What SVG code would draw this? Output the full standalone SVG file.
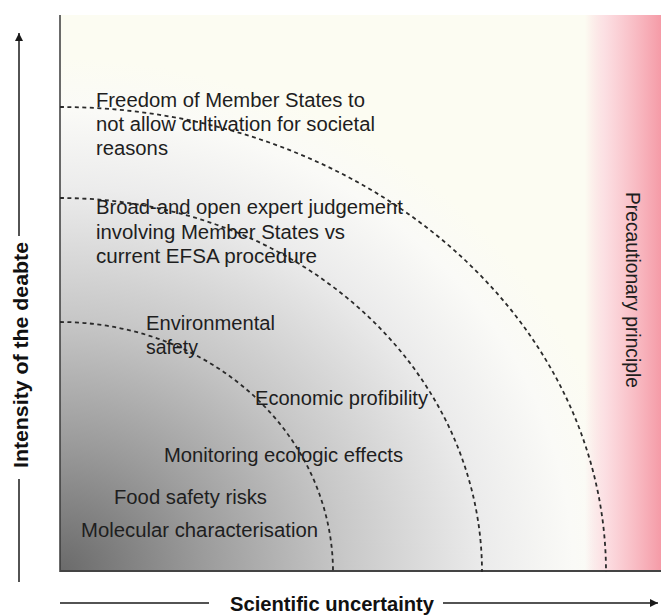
<svg xmlns="http://www.w3.org/2000/svg" width="661" height="615" viewBox="0 0 661 615">
<style>
.lbl{font-family:"Liberation Sans",Arial,sans-serif;font-size:19.5px;fill:#1e1e1e}
.ax{font-family:"Liberation Sans",Arial,sans-serif;font-size:19.5px;font-weight:bold;fill:#111}
.arc{fill:none;stroke:#2a2a2a;stroke-width:1.8;stroke-dasharray:4 3.5}
.axl{stroke:#1a1a1a;stroke-width:1.5;fill:none}
</style>
<defs>
<radialGradient id="bg" gradientUnits="userSpaceOnUse" cx="60" cy="572" r="570" gradientTransform="translate(60 572) scale(1 0.9) translate(-60 -572)">
<stop offset="0" stop-color="#6a6a6a"/>
<stop offset="0.25" stop-color="#9b9b9b"/>
<stop offset="0.5" stop-color="#c8c8c8"/>
<stop offset="0.75" stop-color="#ececec"/>
<stop offset="0.9" stop-color="#fafaf7"/>
<stop offset="1" stop-color="#fcfcf2"/>
</radialGradient>
<linearGradient id="pink" gradientUnits="userSpaceOnUse" x1="585" y1="0" x2="661" y2="0">
<stop offset="0" stop-color="#fbd3da" stop-opacity="0"/>
<stop offset="0.25" stop-color="#fcdde2" stop-opacity="0.9"/>
<stop offset="1" stop-color="#f59ba7"/>
</linearGradient>
<marker id="ah" viewBox="0 0 10 10" refX="10" refY="5" markerWidth="8" markerHeight="8" markerUnits="userSpaceOnUse" orient="auto">
<path d="M0,0 L10,5 L0,10 z" fill="#1a1a1a"/>
</marker>
</defs>
<rect width="661" height="615" fill="#ffffff"/>
<g id="plot">
<rect x="60" y="15" width="601" height="557" fill="url(#bg)"/>
<rect x="585" y="15" width="76" height="557" fill="url(#pink)"/>
<line x1="60" y1="15" x2="60" y2="572" stroke="#3a3a3a" stroke-width="1.5"/>
<line x1="60" y1="571" x2="661" y2="571" stroke="#444" stroke-width="2"/>
</g>
<g id="connectors">
<path class="arc" d="M60,322 A273,250 0 0 1 333,572"/>
<path class="arc" d="M60,198 A422,374 0 0 1 482,572"/>
<path class="arc" d="M60,107 A546,465 0 0 1 606,572"/>
</g>
<g id="axes">
<line class="axl" x1="19" y1="582" x2="19" y2="479"/>
<line class="axl" x1="19" y1="236" x2="19" y2="33" marker-end="url(#ah)"/>
<text class="ax" transform="translate(27.5 468) rotate(-90)" textLength="226" lengthAdjust="spacingAndGlyphs">Intensity of the deabte</text>
<line class="axl" x1="60" y1="603" x2="209" y2="603"/>
<line class="axl" x1="443" y1="603" x2="658" y2="603" marker-end="url(#ah)"/>
<text class="ax" x="230" y="611" textLength="204" lengthAdjust="spacingAndGlyphs">Scientific uncertainty</text>
</g>
<g id="freedom">
<text class="lbl" x="96" y="107" textLength="269" lengthAdjust="spacingAndGlyphs">Freedom of Member States to</text>
<text class="lbl" x="96" y="131" textLength="279" lengthAdjust="spacingAndGlyphs">not allow cultivation for societal</text>
<text class="lbl" x="96" y="155" textLength="72" lengthAdjust="spacingAndGlyphs">reasons</text>
</g>
<g id="expert">
<text class="lbl" x="96" y="214" textLength="307" lengthAdjust="spacingAndGlyphs">Broad-and open expert judgement</text>
<text class="lbl" x="96" y="239" textLength="249" lengthAdjust="spacingAndGlyphs">involving Member States vs</text>
<text class="lbl" x="96" y="263" textLength="221" lengthAdjust="spacingAndGlyphs">current EFSA procedure</text>
</g>
<g id="environmental">
<text class="lbl" x="146" y="330" textLength="129" lengthAdjust="spacingAndGlyphs">Environmental</text>
<text class="lbl" x="146" y="354" textLength="52" lengthAdjust="spacingAndGlyphs">safety</text>
</g>
<g id="economic">
<text class="lbl" x="255" y="405" textLength="173" lengthAdjust="spacingAndGlyphs">Economic profibility</text>
</g>
<g id="monitoring">
<text class="lbl" x="164" y="462" textLength="239" lengthAdjust="spacingAndGlyphs">Monitoring ecologic effects</text>
</g>
<g id="food">
<text class="lbl" x="114" y="504" textLength="153" lengthAdjust="spacingAndGlyphs">Food safety risks</text>
</g>
<g id="molecular">
<text class="lbl" x="81" y="537" textLength="237" lengthAdjust="spacingAndGlyphs">Molecular characterisation</text>
</g>
<g id="precautionary">
<text class="lbl" transform="translate(625.5 192) rotate(90)" textLength="196" lengthAdjust="spacingAndGlyphs">Precautionary principle</text>
</g>
</svg>
